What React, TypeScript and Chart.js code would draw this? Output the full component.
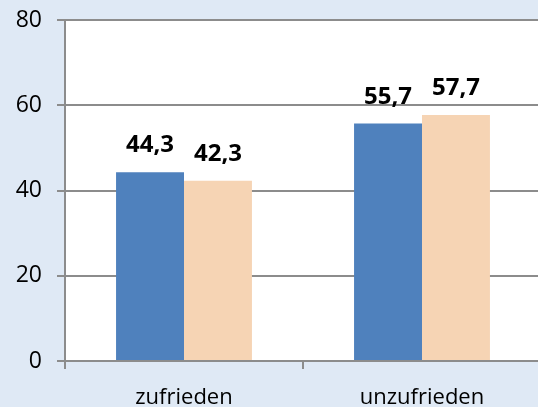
import React, { useEffect, useRef } from "react";
import { Chart, registerables } from "chart.js";

Chart.register(...registerables);

const categories = ["zufrieden", "unzufrieden"];
const seriesNames = ["Reihe 1", "Reihe 2"];
const series1 = [44.3, 55.7];
const series2 = [42.3, 57.7];
const yTicks = [0, 20, 40, 60, 80];

const BLUE = "#4F81BD";
const PEACH = "#F6D4B4";
const BG = "#DFE9F5";
const GRID = "#8C8C8C";

const plotBg = {
  id: "plotBg",
  beforeDraw(chart: any) {
    const { ctx, chartArea } = chart;
    ctx.save();
    ctx.fillStyle = "#FFFFFF";
    ctx.fillRect(chartArea.left, chartArea.top, chartArea.right - chartArea.left, chartArea.bottom - chartArea.top);
    ctx.restore();
  },
};

const valueLabels = {
  id: "valueLabels",
  afterDatasetsDraw(chart: any) {
    const { ctx } = chart;
    ctx.save();
    ctx.font = "bold 24px 'Open Sans'";
    ctx.fillStyle = "#000000";
    ctx.textAlign = "center";
    ctx.textBaseline = "alphabetic";
    chart.data.datasets.forEach((ds: any, i: number) => {
      const meta = chart.getDatasetMeta(i);
      meta.data.forEach((bar: any, j: number) => {
        const v = ds.data[j];
        const txt = v.toFixed(1).replace(".", ",");
        ctx.fillText(txt, bar.x, bar.y - 20);
      });
    });
    ctx.restore();
  },
};

export default function App() {
  const ref = useRef<HTMLCanvasElement | null>(null);
  useEffect(() => {
    if (!ref.current) return;
    const chart = new Chart(ref.current, {
      type: "bar",
      data: {
        labels: categories,
        datasets: [
          { label: seriesNames[0], data: series1, backgroundColor: BLUE, categoryPercentage: 0.571, barPercentage: 1 },
          { label: seriesNames[1], data: series2, backgroundColor: PEACH, categoryPercentage: 0.571, barPercentage: 1 },
        ],
      },
      options: {
        responsive: false,
        animation: false,
        layout: { padding: { top: 20, right: 7, left: 0, bottom: 0 } },
        plugins: { legend: { display: false }, tooltip: { enabled: false } },
        scales: {
          x: {
            offset: true,
            grid: { display: true, drawOnChartArea: false, drawTicks: true, tickLength: 8, color: GRID, lineWidth: 2, offset: true },
            border: { display: true, color: GRID, width: 2 },
            ticks: { color: "#000000", font: { family: "'Open Sans'", size: 22 }, padding: 16, maxRotation: 0 },
            afterFit(scale: any) {
              scale.height = 46;
              scale.paddingLeft = 0;
              scale.paddingRight = 0;
            },
          },
          y: {
            min: yTicks[0],
            max: yTicks[yTicks.length - 1],
            grid: { color: GRID, lineWidth: 2, drawTicks: true, tickLength: 8 },
            border: { display: true, color: GRID, width: 2 },
            ticks: {
              stepSize: 20,
              color: "#000000",
              font: { family: "'Open Sans'", size: 23 },
              padding: 15,
            },
            afterBuildTicks(scale: any) {
              scale.ticks = yTicks.map((v) => ({ value: v }));
            },
            afterFit(scale: any) {
              scale.width = 65;
              scale.paddingTop = 0;
              scale.paddingBottom = 0;
            },
          },
        },
      },
      plugins: [plotBg, valueLabels],
    });
    return () => chart.destroy();
  }, []);
  return (
    <div style={{ position: "fixed", left: 0, top: 0, width: 538, height: 407, overflow: "hidden", background: BG }}>
      <canvas ref={ref} width={548} height={407} style={{ display: "block", width: 548, height: 407 }} />
    </div>
  );
}
